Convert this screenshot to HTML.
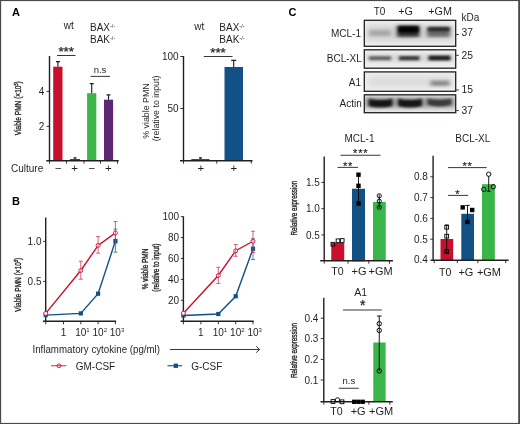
<!DOCTYPE html>
<html><head><meta charset="utf-8">
<style>
html,body{margin:0;padding:0;background:#fff;}
body{width:520px;height:424px;overflow:hidden;}
svg{display:block;will-change:transform;font-family:"Liberation Sans",sans-serif;fill:#231f20;}
.ax{stroke:#231f20;stroke-width:1.4;fill:none;}
.tk{stroke:#231f20;stroke-width:0.9;fill:none;}
.eb{stroke:#231f20;stroke-width:1.15;fill:none;}
.b{font-weight:bold;font-size:11px;fill:#000;}
</style></head><body>
<svg width="520" height="424" viewBox="0 0 520 424">
<defs>
<filter id="bl1" x="-20%" y="-50%" width="140%" height="200%"><feGaussianBlur stdDeviation="1.6 1.3"/></filter>
<filter id="bl2" x="-20%" y="-50%" width="140%" height="200%"><feGaussianBlur stdDeviation="1.4 0.9"/></filter>
</defs>
<rect x="0" y="0" width="520" height="424" fill="#fff"/>
<rect x="0.55" y="0.5" width="518.5" height="423" fill="none" stroke="#4a4a4a" stroke-width="1.2"/>
<rect x="518.4" y="0" width="1.6" height="424" fill="#4a4a4a"/>

<text x="12" y="16.2" class="b">A</text>
<text x="63.7" y="29" font-size="10">wt</text>
<text x="90" y="30.7" font-size="10">BAX<tspan font-size="5.5" dy="-3">-/-</tspan></text>
<text x="90" y="43.2" font-size="10">BAK<tspan font-size="5.5" dy="-3">-/-</tspan></text>
<text x="66.2" y="55.8" font-size="13.3" text-anchor="middle" stroke="#231f20" stroke-width="0.25">***</text>
<line x1="57" y1="55.5" x2="75.5" y2="55.5" class="tk"/>
<text x="100" y="72.6" font-size="9.5" text-anchor="middle">n.s</text>
<line x1="90.5" y1="76.4" x2="110" y2="76.4" class="tk"/>
<rect x="53.2" y="66.7" width="9.3" height="94" fill="#c8102e"/>
<rect x="70" y="159" width="10" height="2" fill="#125086"/>
<rect x="87.1" y="93.2" width="9.2" height="67.8" fill="#39b54a"/>
<rect x="104" y="99.7" width="9.1" height="61.3" fill="#5c2674"/>
<path class="eb" d="M57.9 66.7V61.6M56 61.6h4M75 159V157.8M73.5 157.8h3M91.7 93.2V83.6M89.7 83.6h4M108.5 99.7V94.9M106.5 94.9h4"/>
<path class="ax" d="M49.5 56V161M46.3 160.8H118.75"/>
<path class="tk" d="M46.5 91.4h3M46.5 126.4h3M49.5 161v2.7M66.5 161v2.7M84 161v2.7M100.5 161v2.7M117.5 161v2.7"/>
<text x="44.3" y="94.8" font-size="10" text-anchor="end">4</text>
<text x="44.3" y="129.8" font-size="10" text-anchor="end">2</text>
<text x="11" y="172" font-size="10">Culture</text>
<text x="58.4" y="172" font-size="11.5" text-anchor="middle">−</text>
<text x="74.5" y="172" font-size="11.5" text-anchor="middle">+</text>
<text x="91.75" y="172" font-size="11.5" text-anchor="middle">−</text>
<text x="108.3" y="172" font-size="11.5" text-anchor="middle">+</text>
<text transform="translate(21.3 108.2) rotate(-90) scale(0.69 1)" text-anchor="middle" font-size="9.5" stroke="#231f20" stroke-width="0.35">Viable PMN (×10<tspan font-size="5.5" dy="-3.2">5</tspan><tspan dy="3.2">)</tspan></text>
<text x="194.3" y="29.5" font-size="10">wt</text>
<text x="219.3" y="30.7" font-size="10">BAX<tspan font-size="5.5" dy="-3">-/-</tspan></text>
<text x="219.3" y="43.2" font-size="10">BAK<tspan font-size="5.5" dy="-3">-/-</tspan></text>
<text x="218" y="56.8" font-size="13.3" text-anchor="middle" stroke="#231f20" stroke-width="0.25">***</text>
<line x1="203.75" y1="56.5" x2="232.5" y2="56.5" class="tk"/>
<rect x="191.25" y="159" width="18.25" height="2" fill="#c8102e"/>
<rect x="224.5" y="67" width="18.5" height="94" fill="#125086"/>
<path class="eb" d="M200.4 159V157.8M199 157.8h3M233.7 67V60.4M231.2 60.4h5"/>
<path class="ax" d="M183.5 56V161M180 160.8H252.5"/>
<path class="tk" d="M180.3 56.5h3.2M180.3 108.5h3.2M183.5 161v2.7M216.75 161v2.7M251.25 161v2.7"/>
<text x="178.6" y="60" font-size="10" text-anchor="end">100</text>
<text x="178.6" y="112" font-size="10" text-anchor="end">50</text>
<text x="200.75" y="172" font-size="11.5" text-anchor="middle">+</text>
<text x="233.75" y="172" font-size="11.5" text-anchor="middle">+</text>
<text transform="translate(148.6 111) rotate(-90) scale(0.93 1)" text-anchor="middle" font-size="9.5">% viable PMN</text>
<text transform="translate(158.6 108.5) rotate(-90) scale(0.93 1)" text-anchor="middle" font-size="9.5">(relative to input)</text>
<text x="12" y="205.2" class="b">B</text>
<path class="ax" d="M45.7 217.5V321.8M42.900000000000006 321.3H116.10000000000001"/>
<path class="tk" d="M43.1 241.4h2.6M43.1 281.4h2.6M45.7 321.3v3M63.5 321.3v3M80.8 321.3v3M98.1 321.3v3M115.4 321.3v3"/>
<text x="41.5" y="244.9" font-size="10" text-anchor="end">1.0</text>
<text x="41.5" y="284.9" font-size="10" text-anchor="end">0.5</text>
<text x="63.5" y="335.6" font-size="10" text-anchor="middle">1</text>
<text x="75.2" y="335.6" font-size="10">10<tspan font-size="6" dy="-4">1</tspan></text>
<text x="92.5" y="335.6" font-size="10">10<tspan font-size="6" dy="-4">2</tspan></text>
<text x="109.80000000000001" y="335.6" font-size="10">10<tspan font-size="6" dy="-4">3</tspan></text>
<polyline fill="none" stroke="#125086" stroke-width="1.4" points="45.7,315.1 80.8,313.4 98.1,293.7 115.4,241"/>
<path d="M115.4 229.1V252.2M113.4 229.1h4M113.4 252.2h4" fill="none" stroke="#2d6496" stroke-width="0.8"/>
<rect x="43.60" y="313.00" width="4.2" height="4.2" fill="#125086"/>
<rect x="78.70" y="311.30" width="4.2" height="4.2" fill="#125086"/>
<rect x="96.00" y="291.60" width="4.2" height="4.2" fill="#125086"/>
<rect x="113.30" y="238.90" width="4.2" height="4.2" fill="#125086"/>
<polyline fill="none" stroke="#c8102e" stroke-width="1.4" points="45.7,313.4 80.8,270.5 98.1,245.4 115.4,232.9"/>
<circle cx="45.7" cy="313.4" r="2" fill="#fff" stroke="#c8102e" stroke-width="0.9"/>
<circle cx="80.8" cy="270.5" r="2" fill="#fff" stroke="#c8102e" stroke-width="0.9"/>
<circle cx="98.1" cy="245.4" r="2" fill="#fff" stroke="#c8102e" stroke-width="0.9"/>
<circle cx="115.4" cy="232.9" r="2" fill="#fff" stroke="#c8102e" stroke-width="0.9"/>
<path d="M80.8 261.25V279.25M78.8 261.25h4M78.8 279.25h4" fill="none" stroke="#cf3a55" stroke-width="0.8"/>
<path d="M98.1 236.6V253.2M96.1 236.6h4M96.1 253.2h4" fill="none" stroke="#cf3a55" stroke-width="0.8"/>
<path d="M115.4 221.6V243.75M113.4 221.6h4M113.4 243.75h4" fill="none" stroke="#cf3a55" stroke-width="0.8"/>
<text transform="translate(21.3 284.7) rotate(-90) scale(0.69 1)" text-anchor="middle" font-size="9.5" stroke="#231f20" stroke-width="0.35">Viable PMN (×10<tspan font-size="5.5" dy="-3.2">5</tspan><tspan dy="3.2">)</tspan></text>
<path class="ax" d="M183.4 216.2V321.8M180.6 321.3H253.7"/>
<path class="tk" d="M180.8 216.7h2.6M180.8 237.6h2.6M180.8 258.5h2.6M180.8 279.4h2.6M180.8 300.3h2.6M183.4 321.3v3M200.9 321.3v3M218.3 321.3v3M235.7 321.3v3M253 321.3v3"/>
<text x="179.20000000000002" y="220.2" font-size="10" text-anchor="end">100</text>
<text x="179.20000000000002" y="241.1" font-size="10" text-anchor="end">80</text>
<text x="179.20000000000002" y="262.0" font-size="10" text-anchor="end">60</text>
<text x="179.20000000000002" y="282.9" font-size="10" text-anchor="end">40</text>
<text x="179.20000000000002" y="303.8" font-size="10" text-anchor="end">20</text>
<text x="200.9" y="335.6" font-size="10" text-anchor="middle">1</text>
<text x="212.70000000000002" y="335.6" font-size="10">10<tspan font-size="6" dy="-4">1</tspan></text>
<text x="230.1" y="335.6" font-size="10">10<tspan font-size="6" dy="-4">2</tspan></text>
<text x="247.4" y="335.6" font-size="10">10<tspan font-size="6" dy="-4">3</tspan></text>
<polyline fill="none" stroke="#125086" stroke-width="1.4" points="183.4,315.5 218.3,314 235.7,296.25 253,248.75"/>
<path d="M253 238.75V259.5M251 238.75h4M251 259.5h4" fill="none" stroke="#2d6496" stroke-width="0.8"/>
<rect x="181.30" y="313.40" width="4.2" height="4.2" fill="#125086"/>
<rect x="216.20" y="311.90" width="4.2" height="4.2" fill="#125086"/>
<rect x="233.60" y="294.15" width="4.2" height="4.2" fill="#125086"/>
<rect x="250.90" y="246.65" width="4.2" height="4.2" fill="#125086"/>
<polyline fill="none" stroke="#c8102e" stroke-width="1.4" points="183.4,313.25 218.3,275.5 235.7,250.75 253,241.25"/>
<circle cx="183.4" cy="313.25" r="2" fill="#fff" stroke="#c8102e" stroke-width="0.9"/>
<circle cx="218.3" cy="275.5" r="2" fill="#fff" stroke="#c8102e" stroke-width="0.9"/>
<circle cx="235.7" cy="250.75" r="2" fill="#fff" stroke="#c8102e" stroke-width="0.9"/>
<circle cx="253" cy="241.25" r="2" fill="#fff" stroke="#c8102e" stroke-width="0.9"/>
<path d="M218.3 267.25V283.5M216.3 267.25h4M216.3 283.5h4" fill="none" stroke="#cf3a55" stroke-width="0.8"/>
<path d="M235.7 244.5V256.25M233.7 244.5h4M233.7 256.25h4" fill="none" stroke="#cf3a55" stroke-width="0.8"/>
<path d="M253 231.25V252.5M251 231.25h4M251 252.5h4" fill="none" stroke="#cf3a55" stroke-width="0.8"/>
<text transform="translate(147.6 268.9) rotate(-90) scale(0.72 1)" text-anchor="middle" font-size="9" stroke="#231f20" stroke-width="0.35">% viable PMN</text>
<text transform="translate(159 267.6) rotate(-90) scale(0.72 1)" text-anchor="middle" font-size="9" stroke="#231f20" stroke-width="0.35">(relative to input)</text>
<text x="32.5" y="353" font-size="10" textLength="127.5" lengthAdjust="spacingAndGlyphs">Inflammatory cytokine (pg/ml)</text>
<path class="tk" d="M170 349.5H259.6M256.2 346.3l3.4 3.2l-3.4 3.2"/>
<circle cx="58.9" cy="365.75" r="1.9" fill="#fff" stroke="#c8102e" stroke-width="0.9"/>
<line x1="51" y1="365.75" x2="66.3" y2="365.75" stroke="#c8102e" stroke-width="0.9"/>
<text x="75.75" y="369.6" font-size="10">GM-CSF</text>
<line x1="167.5" y1="365.75" x2="182.2" y2="365.75" stroke="#125086" stroke-width="1.1"/>
<rect x="173.65" y="363.60" width="4.3" height="4.3" fill="#125086"/>
<text x="191.25" y="369.6" font-size="10">G-CSF</text>
<text x="288.5" y="16.2" class="b">C</text>
<text x="373.75" y="15.2" font-size="10">T0</text>
<text x="398.3" y="15.2" font-size="10.8">+G</text>
<text x="428.3" y="15.2" font-size="10.8">+GM</text>
<text x="461.6" y="20.7" font-size="10">kDa</text>
<text x="361" y="36.8" font-size="10" text-anchor="end">MCL-1</text>
<text x="361.8" y="62.4" font-size="10" text-anchor="end">BCL-XL</text>
<text x="361" y="86.2" font-size="10" text-anchor="end">A1</text>
<text x="361.8" y="107" font-size="10" text-anchor="end">Actin</text>
<clipPath id="cb1"><rect x="364.3" y="20.3" width="91.4" height="26"/></clipPath>
<clipPath id="cb2"><rect x="364.3" y="49.8" width="91.4" height="18.4"/></clipPath>
<clipPath id="cb3"><rect x="364.3" y="71.9" width="91.4" height="19.4"/></clipPath>
<clipPath id="cb4"><rect x="364.3" y="94.8" width="91.4" height="17.9"/></clipPath>
<filter id="h3" x="-30%" y="-100%" width="160%" height="300%"><feGaussianBlur stdDeviation="3 2.4"/></filter>
<filter id="h2" x="-30%" y="-100%" width="160%" height="300%"><feGaussianBlur stdDeviation="2 1.5"/></filter>
<filter id="h1" x="-30%" y="-100%" width="160%" height="300%"><feGaussianBlur stdDeviation="1.5 1"/></filter>
<filter id="h0" x="-30%" y="-100%" width="160%" height="300%"><feGaussianBlur stdDeviation="1.2 0.7"/></filter>
<g clip-path="url(#cb1)"><rect x="364" y="20" width="92" height="27" fill="#efefef"/>
<rect x="366" y="24" width="88" height="18" fill="#d8d8d8" filter="url(#h3)"/>
<rect x="369" y="29.8" width="22" height="6.4" fill="#a0a0a0" opacity="0.85" filter="url(#h2)"/>
<rect x="397" y="25.5" width="22.5" height="11.5" fill="#333" filter="url(#h2)"/>
<rect x="398.5" y="26.5" width="20" height="6" fill="#000" filter="url(#h1)"/>
<rect x="427" y="27" width="23" height="10" fill="#6a6a6a" filter="url(#h2)"/>
<rect x="428" y="27.3" width="21.5" height="4" fill="#2a2a2a" filter="url(#h1)"/>
</g>
<g clip-path="url(#cb2)"><rect x="364" y="49" width="92" height="20" fill="#efefef"/>
<rect x="366" y="54" width="88" height="8" fill="#d4d4d4" filter="url(#h3)"/>
<rect x="369" y="56.2" width="22" height="4" fill="#606060" filter="url(#h1)"/>
<rect x="399" y="56" width="20.5" height="4.4" fill="#3a3a3a" filter="url(#h1)"/>
<rect x="428.5" y="55.6" width="22" height="4.8" fill="#1c1c1c" filter="url(#h1)"/>
</g>
<g clip-path="url(#cb3)"><rect x="364" y="71" width="92" height="21" fill="#ededed"/>
<rect x="368" y="76" width="84" height="11" fill="#dedede" filter="url(#h3)"/>
<rect x="430.5" y="80.6" width="19" height="5.2" fill="#888" filter="url(#h2)"/>
</g>
<g clip-path="url(#cb4)"><rect x="364" y="94" width="92" height="19" fill="#ececec"/>
<rect x="364" y="97" width="92" height="11" fill="#999" filter="url(#h3)"/>
<path d="M368.5 98.7q12 2.6 24 0v7.2q-12 3.4-24 0z" fill="#141414" filter="url(#h1)"/>
<path d="M398 98.7q12 2.6 24 0v7.2q-12 3.4-24 0z" fill="#141414" filter="url(#h1)"/>
<path d="M427.5 98.4q12 2.6 24 0v6.4q-12 3.4-24 0z" fill="#3a3a3a" filter="url(#h1)"/>
</g>
<rect x="364.3" y="20.3" width="91.4" height="26" fill="none" stroke="#231f20" stroke-width="1.3"/>
<rect x="364.3" y="49.8" width="91.4" height="18.4" fill="none" stroke="#231f20" stroke-width="1.3"/>
<rect x="364.3" y="71.9" width="91.4" height="19.4" fill="none" stroke="#231f20" stroke-width="1.3"/>
<rect x="364.3" y="94.8" width="91.4" height="17.9" fill="none" stroke="#231f20" stroke-width="1.3"/>
<path class="tk" d="M456.2 34.5h2.6M456.2 55.3h2.6M456.2 90h2.6M456.2 110.6h2.6"/>
<text x="461.6" y="36.3" font-size="10.3">37</text>
<text x="461.6" y="59.2" font-size="10.3">25</text>
<text x="461.6" y="92.6" font-size="10.3">15</text>
<text x="461.6" y="114.4" font-size="10.3">37</text>
<text x="359.5" y="141.8" font-size="10" text-anchor="middle">MCL-1</text>
<text x="360.7" y="157.4" font-size="11" text-anchor="middle" letter-spacing="0.8" stroke="#231f20" stroke-width="0.2">***</text>
<line x1="340.5" y1="155.25" x2="380.5" y2="155.25" class="tk"/>
<text x="348" y="170" font-size="11" text-anchor="middle" letter-spacing="0.8" stroke="#231f20" stroke-width="0.2">**</text>
<line x1="337.5" y1="167.4" x2="358" y2="167.4" class="tk"/>
<rect x="331.25" y="243" width="13" height="18" fill="#c8102e"/>
<rect x="352" y="188.75" width="13" height="72.5" fill="#125086"/>
<rect x="373" y="202" width="12.75" height="59" fill="#39b54a"/>
<path class="ax" d="M324.2 156.5V261.3M320.2 260.8H393"/>
<path class="tk" d="M321.4 182.4h2.8M321.4 208.7h2.8M321.4 234.9h2.8M324.2 261v2.7M348 261v2.7M368.8 261v2.7M389.5 261v2.7"/>
<text x="319.8" y="186" font-size="10" text-anchor="end">1.5</text>
<text x="319.8" y="212.3" font-size="10" text-anchor="end">1.0</text>
<text x="319.8" y="238.5" font-size="10" text-anchor="end">0.5</text>
<path d="M358.5 174.5V203.75" fill="none" stroke="#000" stroke-width="0.9"/>
<rect x="356.30" y="172.50" width="4.4" height="4.4" fill="#000"/>
<rect x="356.30" y="183.60" width="4.4" height="4.4" fill="#000"/>
<rect x="356.30" y="201.30" width="4.4" height="4.4" fill="#000"/>
<path d="M379.25 194.5V208" fill="none" stroke="#000" stroke-width="0.9"/>
<circle cx="379.25" cy="195.8" r="2.1" fill="none" stroke="#000" stroke-width="0.9"/>
<circle cx="379.25" cy="201.2" r="2.1" fill="none" stroke="#000" stroke-width="0.9"/>
<circle cx="379.25" cy="207.3" r="2.1" fill="none" stroke="#000" stroke-width="0.9"/>
<rect x="331.05" y="242.35" width="3.7" height="3.7" fill="none" stroke="#000" stroke-width="0.9"/>
<rect x="336.15" y="238.95" width="3.7" height="3.7" fill="none" stroke="#000" stroke-width="0.9"/>
<rect x="340.35" y="238.65" width="3.7" height="3.7" fill="none" stroke="#000" stroke-width="0.9"/>
<text x="331.2" y="275.4" font-size="10.6">T0</text>
<text x="351.6" y="275.4" font-size="11">+G</text>
<text x="368.6" y="275.4" font-size="11">+GM</text>
<text transform="translate(297 208.1) rotate(-90) scale(0.7 1)" text-anchor="middle" font-size="9" stroke="#231f20" stroke-width="0.35">Relative expression</text>
<text x="472.8" y="141.8" font-size="10" text-anchor="middle">BCL-XL</text>
<text x="467.6" y="170.2" font-size="11" text-anchor="middle" letter-spacing="0.8" stroke="#231f20" stroke-width="0.2">**</text>
<line x1="448" y1="167.6" x2="486.7" y2="167.6" class="tk"/>
<text x="457.5" y="197.7" font-size="11" text-anchor="middle" stroke="#231f20" stroke-width="0.2">*</text>
<line x1="448" y1="195.4" x2="468.2" y2="195.4" class="tk"/>
<rect x="440.5" y="239" width="12.7" height="21.3" fill="#c8102e"/>
<rect x="461.3" y="213.8" width="12.7" height="46.5" fill="#125086"/>
<rect x="482" y="184.2" width="12.8" height="76.1" fill="#39b54a"/>
<path class="ax" d="M433.1 155.8V260.8M430.6 260.3H508.7"/>
<path class="tk" d="M430.3 176.8h2.7M430.3 197.6h2.7M430.3 218.4h2.7M430.3 239.2h2.7M434.2 260.5v2.7M457.3 260.5v2.7M477.9 260.5v2.7M505.7 260.5v2.7"/>
<text x="427.8" y="180.2" font-size="10" text-anchor="end">0.8</text>
<text x="427.8" y="201" font-size="10" text-anchor="end">0.7</text>
<text x="427.8" y="221.9" font-size="10" text-anchor="end">0.6</text>
<text x="427.8" y="242.7" font-size="10" text-anchor="end">0.5</text>
<text x="427.8" y="263.4" font-size="10" text-anchor="end">0.4</text>
<path d="M446.7 225V252.4M445.0 225h3.4M445.0 252.4h3.4" fill="none" stroke="#000" stroke-width="0.9"/>
<rect x="444.80" y="225.30" width="3.8" height="3.8" fill="none" stroke="#000" stroke-width="0.9"/>
<rect x="444.80" y="234.30" width="3.8" height="3.8" fill="none" stroke="#000" stroke-width="0.9"/>
<rect x="444.80" y="249.70" width="3.8" height="3.8" fill="none" stroke="#000" stroke-width="0.9"/>
<path d="M467.5 205.4V222M465.2 205.4h4.6" fill="none" stroke="#000" stroke-width="0.9"/>
<rect x="460.50" y="205.20" width="4.4" height="4.4" fill="#000"/>
<rect x="470.00" y="207.80" width="4.4" height="4.4" fill="#000"/>
<rect x="465.20" y="219.70" width="4.4" height="4.4" fill="#000"/>
<path d="M488.7 174.8V191.2M486.8 191.2h3.8" fill="none" stroke="#000" stroke-width="0.9"/>
<circle cx="488.7" cy="174.2" r="2.2" fill="#fff" stroke="#000" stroke-width="0.95"/>
<circle cx="483.8" cy="189.4" r="2.2" fill="none" stroke="#000" stroke-width="0.95"/>
<circle cx="493.3" cy="186.7" r="2.2" fill="none" stroke="#000" stroke-width="0.95"/>
<text x="439" y="275.9" font-size="10.6">T0</text>
<text x="458.4" y="275.9" font-size="11">+G</text>
<text x="476.9" y="275.9" font-size="11">+GM</text>
<text x="360.6" y="296.1" font-size="10.5" text-anchor="middle">A1</text>
<text x="362.7" y="310.4" font-size="14" text-anchor="middle" stroke="#231f20" stroke-width="0.25">*</text>
<line x1="343" y1="310" x2="381.75" y2="310" class="tk"/>
<text x="348.8" y="383.6" font-size="9.5" text-anchor="middle">n.s</text>
<line x1="338.75" y1="388.25" x2="358.75" y2="388.25" class="tk"/>
<rect x="373.3" y="342.5" width="12.3" height="59.3" fill="#39b54a"/>
<path class="ax" d="M323.8 297.7V402.3M320.5 401.8H392.8"/>
<path class="tk" d="M320.7 318.2h3.1M320.7 338.6h3.1M320.7 359.4h3.1M320.7 380h3.1M323.8 402v2.7M368.9 402v2.7M389.8 402v2.7"/>
<text x="318.3" y="321.8" font-size="10" text-anchor="end">0.4</text>
<text x="318.3" y="342.2" font-size="10" text-anchor="end">0.3</text>
<text x="318.3" y="363" font-size="10" text-anchor="end">0.2</text>
<text x="318.3" y="383.6" font-size="10" text-anchor="end">0.1</text>
<path d="M379.25 316V370.9M376.95 316h4.6" fill="none" stroke="#000" stroke-width="0.9"/>
<circle cx="379.25" cy="323.7" r="2.2" fill="none" stroke="#000" stroke-width="0.95"/>
<circle cx="379.25" cy="330.4" r="2.2" fill="none" stroke="#000" stroke-width="0.95"/>
<circle cx="379.25" cy="370.9" r="2.2" fill="none" stroke="#000" stroke-width="0.95"/>
<rect x="331.10" y="399.60" width="3.8" height="3.8" fill="none" stroke="#000" stroke-width="0.9"/>
<circle cx="337.5" cy="399.8" r="2.1" fill="none" stroke="#000" stroke-width="0.9"/>
<rect x="340.10" y="399.90" width="3.8" height="3.8" fill="none" stroke="#000" stroke-width="0.9"/>
<rect x="352.05" y="399.65" width="4.3" height="4.3" fill="#000"/>
<rect x="356.25" y="399.65" width="4.3" height="4.3" fill="#000"/>
<rect x="360.55" y="399.65" width="4.3" height="4.3" fill="#000"/>
<text x="330.2" y="415" font-size="10.6">T0</text>
<text x="350.7" y="415" font-size="11">+G</text>
<text x="369" y="415" font-size="11">+GM</text>
<text transform="translate(297 350.5) rotate(-90) scale(0.7 1)" text-anchor="middle" font-size="9" stroke="#231f20" stroke-width="0.35">Relative expression</text>
</svg>
</body></html>
